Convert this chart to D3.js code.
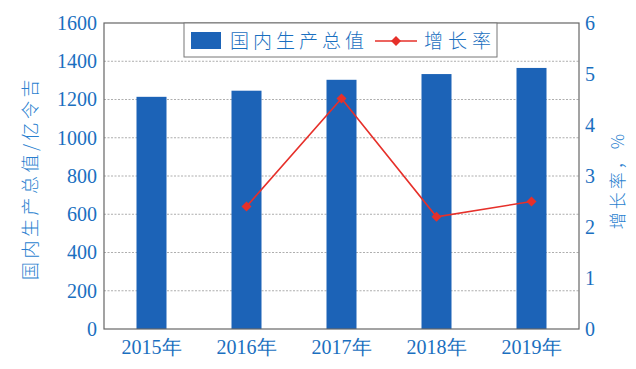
<!DOCTYPE html>
<html>
<head>
<meta charset="utf-8">
<script src="https://cdn.jsdelivr.net/npm/d3@7"></script>
<style>
  body { margin: 0; background: #fff; }
</style>
</head>
<body>
<script>
// données
const years = ["2015年", "2016年", "2017年", "2018年", "2019年"];
const gdp = [1214, 1246, 1303, 1333, 1365];
const growth = [null, 2.4, 4.52, 2.2, 2.5];
const leftTicks = [0, 200, 400, 600, 800, 1000, 1200, 1400, 1600];
const rightTicks = [0, 1, 2, 3, 4, 5, 6];

const W = 636, H = 369;
const margin = {top: 23, right: 57, bottom: 40, left: 104};
const width = W - margin.left - margin.right;
const height = H - margin.top - margin.bottom;

const blue = "#1c63b7", red = "#e6302a", txt = "#1a6fc0";
const serif = "'Liberation Serif', 'Times New Roman', 'DejaVu Serif', serif";
const cjk = "'Noto Sans CJK SC', sans-serif";

const svg = d3.select("body").append("svg")
    .attr("width", W).attr("height", H);
const g = svg.append("g").attr("transform", `translate(${margin.left},${margin.top})`);

const x = d3.scaleBand().domain(years).range([0, width]);
const y = d3.scaleLinear().domain([0, 1600]).range([height, 0]);
const y2 = d3.scaleLinear().domain([0, 6]).range([height, 0]);

// grille
g.selectAll(".grid").data(leftTicks.slice(1, -1)).join("line")
    .attr("x1", 0).attr("x2", width)
    .attr("y1", d => y(d)).attr("y2", d => y(d))
    .attr("stroke", "#999").attr("stroke-dasharray", "2,1.5").attr("stroke-width", 0.8);

// barres
const bw = 30;
g.selectAll(".bar").data(gdp).join("rect")
    .attr("x", (d, i) => x(years[i]) + x.bandwidth() / 2 - bw / 2)
    .attr("y", d => y(d))
    .attr("width", bw)
    .attr("height", d => height - y(d))
    .attr("fill", blue);

// ligne
const diamond = d3.symbol(d3.symbolSquare, 50);
const pts = growth.map((v, i) => ({yr: years[i], v})).filter(d => d.v != null);
const line = d3.line().x(d => x(d.yr) + x.bandwidth() / 2).y(d => y2(d.v));
g.append("path").datum(pts).attr("d", line)
    .attr("fill", "none").attr("stroke", red).attr("stroke-width", 1.6);
g.selectAll(".pt").data(pts).join("path")
    .attr("d", diamond)
    .attr("transform", d => `translate(${x(d.yr) + x.bandwidth() / 2},${y2(d.v)}) rotate(45)`)
    .attr("fill", red);

// cadre
g.append("rect").attr("width", width).attr("height", height)
    .attr("fill", "none").attr("stroke", "#666").attr("stroke-width", 1.2);

// axes
const axL = g.append("g").call(d3.axisLeft(y).tickValues(leftTicks).tickFormat(d3.format("d")).tickSize(0).tickPadding(7));
const axR = g.append("g").attr("transform", `translate(${width},0)`)
    .call(d3.axisRight(y2).tickValues(rightTicks).tickFormat(d3.format("d")).tickSize(0).tickPadding(6));
const axB = g.append("g").attr("transform", `translate(0,${height})`)
    .call(d3.axisBottom(x).tickSize(0).tickPadding(11));
[axL, axR, axB].forEach(a => {
    a.attr("font-family", null);
    a.select(".domain").remove();
    a.selectAll("text").attr("fill", txt).style("font-size", "20px").style("font-family", serif);
});

// titres des axes
svg.append("text")
    .attr("transform", `translate(37,${margin.top + height / 2 + 2}) rotate(-90)`)
    .attr("text-anchor", "middle")
    .attr("fill", "#2a7fcf").style("font-size", "18px").style("letter-spacing", "3.5px")
    .style("font-family", cjk).style("font-weight", 300)
    .text("国内生产总值/亿令吉");
svg.append("text")
    .attr("transform", `translate(624,${margin.top + height / 2 + 4}) rotate(-90)`)
    .attr("text-anchor", "middle")
    .attr("fill", "#2a7fcf").style("font-size", "17px").style("letter-spacing", "3px")
    .style("font-family", cjk).style("font-weight", 300)
    .text("增长率，%");

// légende
const lg = svg.append("g");
lg.append("rect").attr("x", 184).attr("y", margin.top).attr("width", 313).attr("height", 34)
    .attr("fill", "#fff").attr("stroke", "#777").attr("stroke-width", 1);
lg.append("rect").attr("x", 191).attr("y", 32).attr("width", 30).attr("height", 17).attr("fill", blue);
lg.append("text").attr("x", 230).attr("y", 48).attr("fill", txt)
    .style("font-size", "19px").style("letter-spacing", "4px")
    .style("font-family", cjk).style("font-weight", 300)
    .text("国内生产总值");
lg.append("line").attr("x1", 375).attr("x2", 417).attr("y1", 41).attr("y2", 41)
    .attr("stroke", red).attr("stroke-width", 1.6);
lg.append("path").attr("d", diamond)
    .attr("transform", "translate(396,41) rotate(45)").attr("fill", red);
lg.append("text").attr("x", 424).attr("y", 48).attr("fill", txt)
    .style("font-size", "19px").style("letter-spacing", "5px")
    .style("font-family", cjk).style("font-weight", 300)
    .text("增长率");
</script>
</body>
</html>
